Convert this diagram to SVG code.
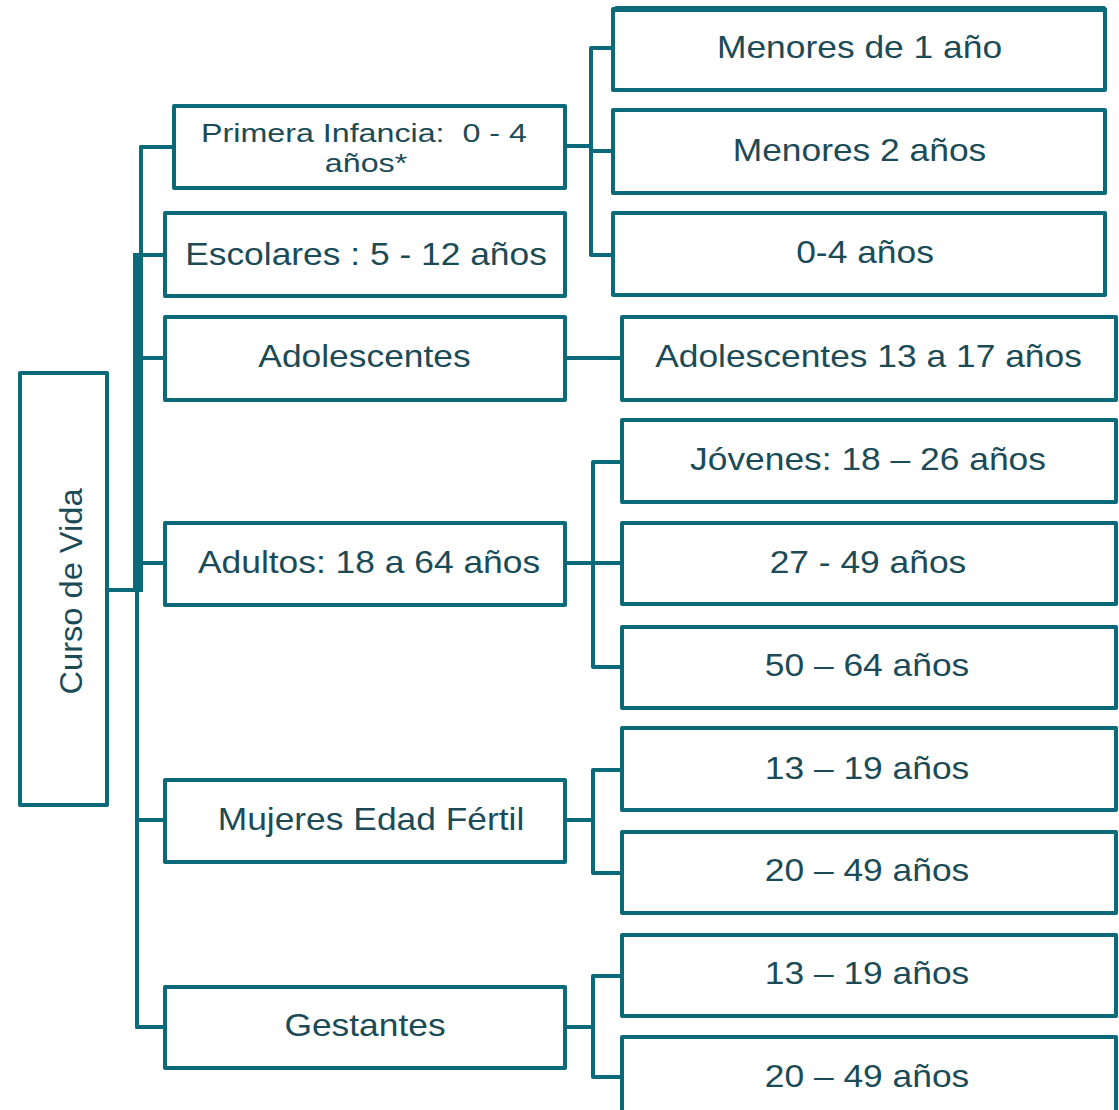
<svg xmlns="http://www.w3.org/2000/svg" width="1119" height="1110" viewBox="0 0 1119 1110">
<style>
.box{fill:#ffffff;stroke:#0b6a79;stroke-width:4;stroke-linejoin:round}
.ln{fill:none;stroke:#0b6a79;stroke-width:4;stroke-linejoin:round;stroke-linecap:round}
.t{font-family:"Liberation Sans",Arial,sans-serif;font-size:30.5px;fill:#1b4b56;text-anchor:middle}
.s{font-size:26px}
</style>
<rect width="1119" height="1110" fill="#ffffff"/>
<g id="connectors">
<path class="ln" d="M107,590 H137"/>
<rect x="133" y="253" width="10" height="339" fill="#0b6a79"/>
<path class="ln" d="M141,147 V590"/>
<path class="ln" d="M137,590 V1027"/>
<path class="ln" d="M141,147 H174 M141,255 H165 M141,358 H165 M141,563 H165 M137,820 H165 M137,1027 H165"/>
<path class="ln" d="M565,146 H591 M591,48 V255 M591,48 H613 M591,151 H613 M591,255 H613"/>
<path class="ln" d="M565,358 H622"/>
<path class="ln" d="M565,563 H593 M593,462 V667 M593,462 H622 M593,563 H622 M593,667 H622"/>
<path class="ln" d="M565,820 H593 M593,770 V873 M593,770 H622 M593,873 H622"/>
<path class="ln" d="M565,1027 H593 M593,976 V1077 M593,976 H622 M593,1077 H622"/>
</g>
<g id="curso">
<rect class="box" x="20" y="373" width="87" height="432"/>
<text class="t" transform="translate(82,591.5) rotate(-90) scale(1.07,1)">Curso de Vida</text>
</g>
<g id="primera">
<rect class="box" x="174" y="106" width="391" height="82"/>
<text class="t s" transform="translate(364,142) scale(1.24,1)">Primera Infancia:&#160; 0 - 4</text>
<text class="t s" transform="translate(366,172) scale(1.24,1)">años*</text>
</g>
<g id="escolares">
<rect class="box" x="165" y="213" width="400" height="83"/>
<text class="t" transform="translate(366,265) scale(1.16,1)">Escolares : 5 - 12 años</text>
</g>
<g id="adolescentes">
<rect class="box" x="165" y="317" width="400" height="83"/>
<text class="t" transform="translate(364.5,367) scale(1.16,1)">Adolescentes</text>
</g>
<g id="adultos">
<rect class="box" x="165" y="523" width="400" height="82"/>
<text class="t" transform="translate(369,573) scale(1.16,1)">Adultos: 18 a 64 años</text>
</g>
<g id="mujeres">
<rect class="box" x="165" y="780" width="400" height="82"/>
<text class="t" transform="translate(371,830) scale(1.16,1)">Mujeres Edad Fértil</text>
</g>
<g id="gestantes">
<rect class="box" x="165" y="987" width="400" height="81"/>
<text class="t" transform="translate(365,1036) scale(1.16,1)">Gestantes</text>
</g>
<g id="menores1">
<rect class="box" x="613" y="9" width="492" height="81"/>
<path d="M615,9 H1105" stroke="#0b6a79" stroke-width="6"/>
<text class="t" transform="translate(859.5,58) scale(1.16,1)">Menores de 1 año</text>
</g>
<g id="menores2">
<rect class="box" x="613" y="110" width="492" height="83"/>
<text class="t" transform="translate(859.5,161) scale(1.16,1)">Menores 2 años</text>
</g>
<g id="cero4">
<rect class="box" x="613" y="213" width="492" height="82"/>
<text class="t" transform="translate(865,263) scale(1.16,1)">0-4 años</text>
</g>
<g id="adol1317">
<rect class="box" x="622" y="317" width="494" height="83"/>
<text class="t" transform="translate(868.5,367) scale(1.16,1)">Adolescentes 13 a 17 años</text>
</g>
<g id="jovenes">
<rect class="box" x="622" y="420" width="494" height="82"/>
<text class="t" transform="translate(868,470) scale(1.16,1)">Jóvenes: 18 – 26 años</text>
</g>
<g id="a2749">
<rect class="box" x="622" y="523" width="494" height="81"/>
<text class="t" transform="translate(868,573) scale(1.16,1)">27 - 49 años</text>
</g>
<g id="a5064">
<rect class="box" x="622" y="627" width="494" height="81"/>
<text class="t" transform="translate(867,676) scale(1.16,1)">50 – 64 años</text>
</g>
<g id="m1319">
<rect class="box" x="622" y="728" width="494" height="82"/>
<text class="t" transform="translate(867,779) scale(1.16,1)">13 – 19 años</text>
</g>
<g id="m2049">
<rect class="box" x="622" y="832" width="494" height="81"/>
<text class="t" transform="translate(867,881) scale(1.16,1)">20 – 49 años</text>
</g>
<g id="g1319">
<rect class="box" x="622" y="935" width="494" height="81"/>
<text class="t" transform="translate(867,984) scale(1.16,1)">13 – 19 años</text>
</g>
<g id="g2049">
<rect class="box" x="622" y="1037" width="494" height="90"/>
<text class="t" transform="translate(867,1087) scale(1.16,1)">20 – 49 años</text>
</g>
</svg>
